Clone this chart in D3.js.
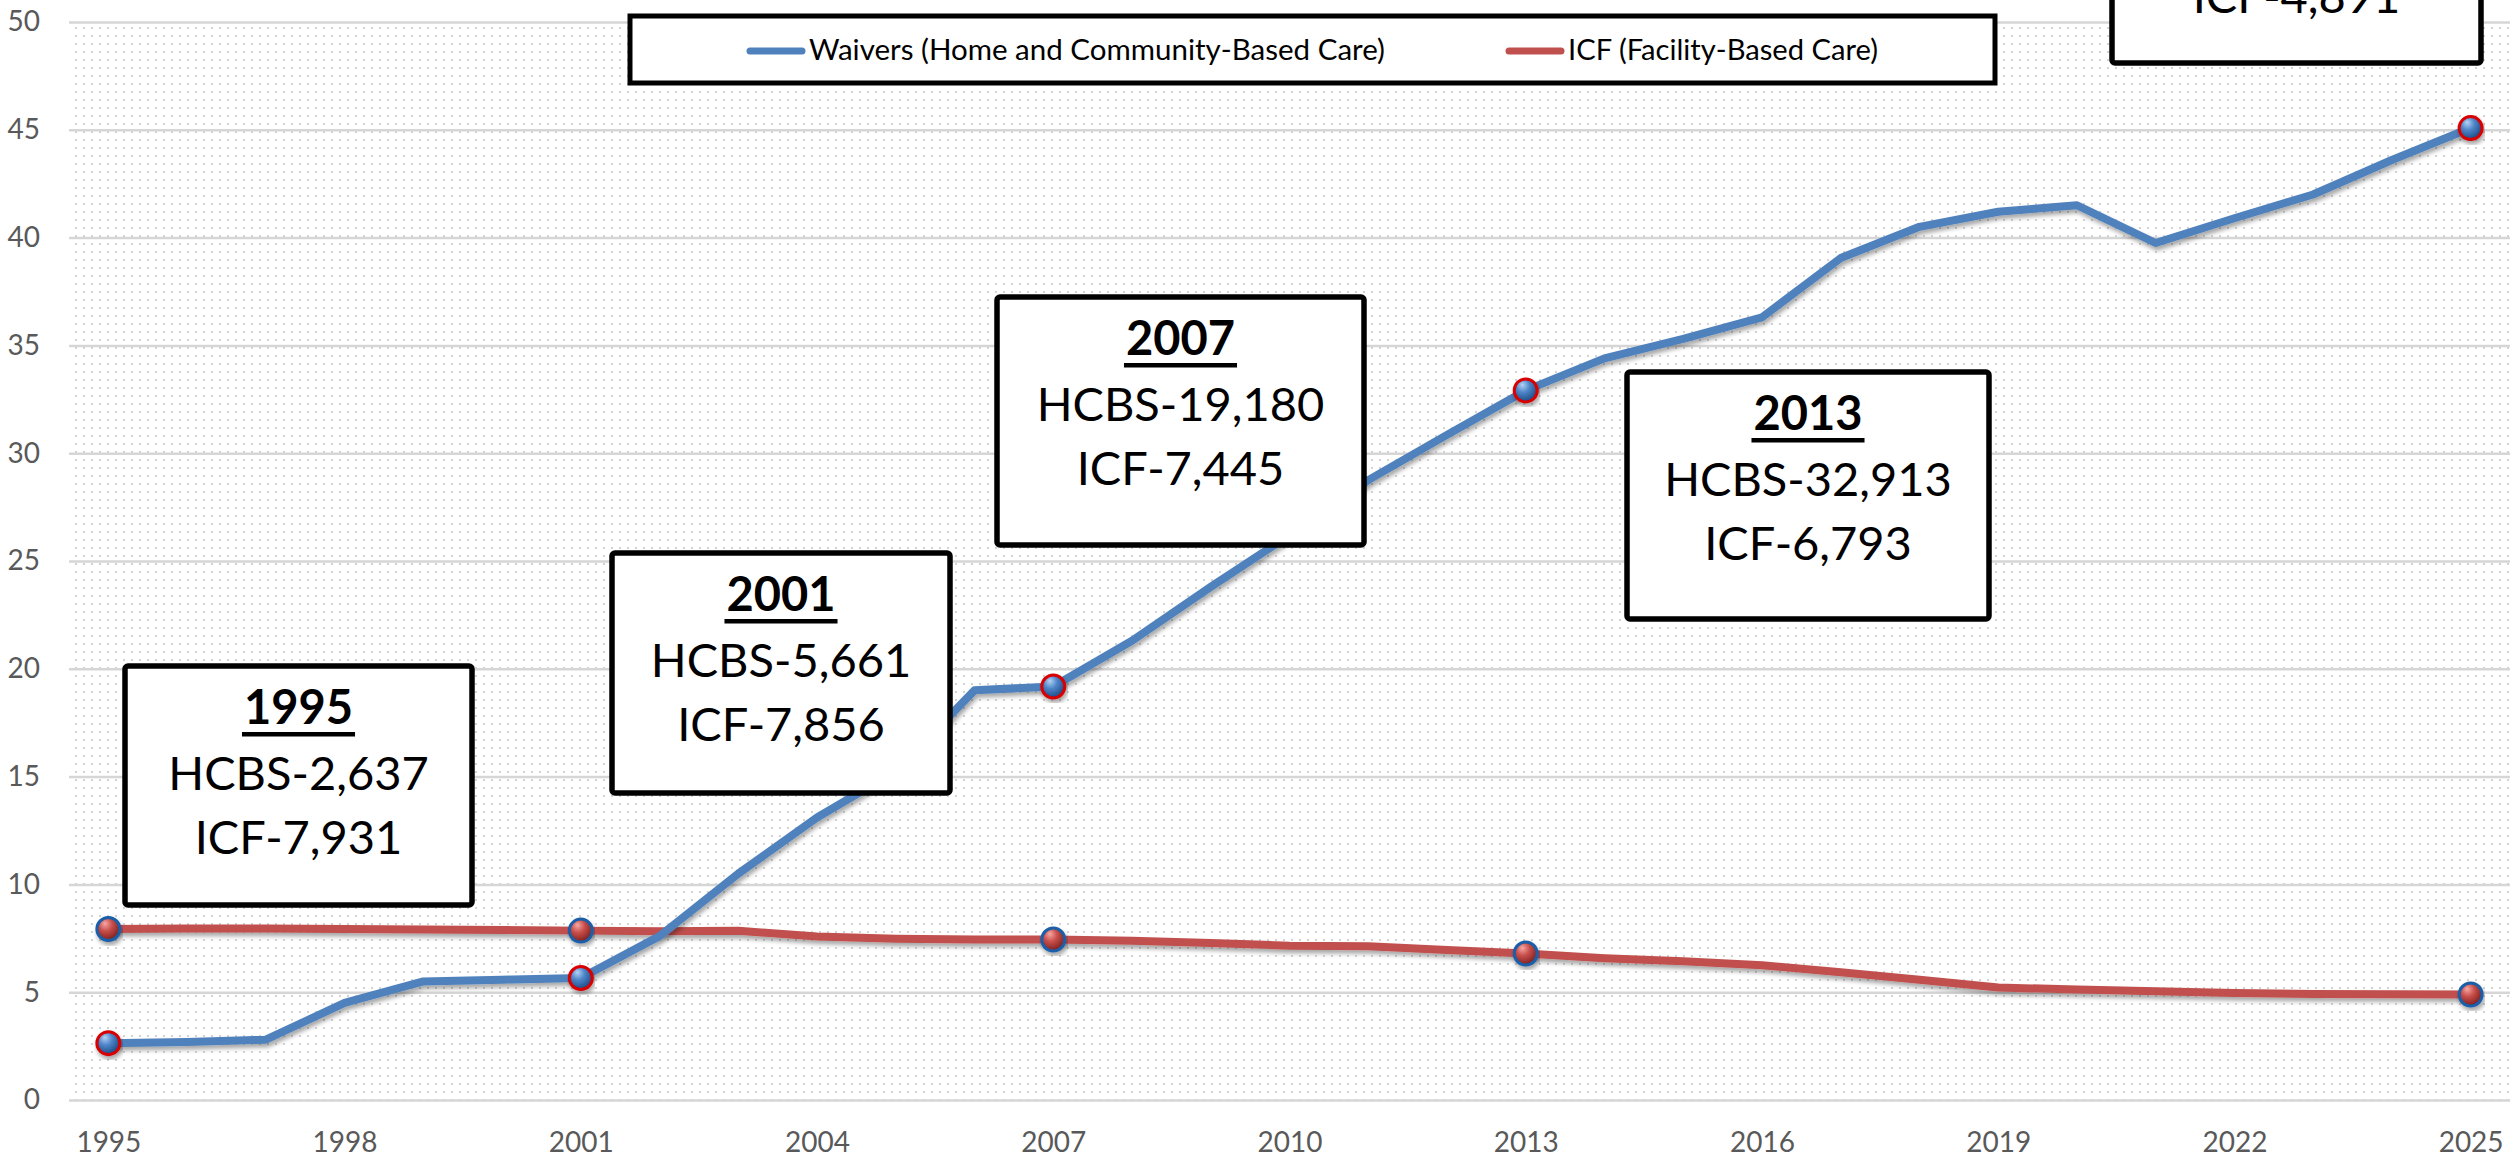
<!DOCTYPE html>
<html>
<head>
<meta charset="utf-8">
<script src="https://cdn.jsdelivr.net/npm/d3@7"></script>
<style>
  body { margin: 0; background: #fff; }
  svg { display: block; font-family: Lato, "Open Sans", sans-serif; }
</style>
</head>
<body>
<div id="chart"></div>
<script>
// Years on the category axis and the two series (thousands of people)
const years = d3.range(1995, 2026);
const hcbs = [2.637, 2.69, 2.80, 4.50, 5.50, 5.58, 5.661, 7.60, 10.50, 13.10, 15.25, 19.00, 19.18,
  21.30, 23.80, 26.20, 28.75, 30.85, 32.913, 34.40, 35.30, 36.30, 39.05, 40.50, 41.20, 41.50,
  39.75, 40.90, 42.00, 43.60, 45.08];
const icf = [7.931, 7.95, 7.95, 7.93, 7.91, 7.89, 7.856, 7.83, 7.85, 7.58, 7.48, 7.45, 7.445,
  7.39, 7.28, 7.16, 7.13, 6.96, 6.793, 6.58, 6.44, 6.25, 5.93, 5.58, 5.22, 5.12,
  5.04, 4.96, 4.92, 4.90, 4.891];
const yTicks = [0, 5, 10, 15, 20, 25, 30, 35, 40, 45, 50];
const xTickYears = [1995, 1998, 2001, 2004, 2007, 2010, 2013, 2016, 2019, 2022, 2025];
const markerYears = [1995, 2001, 2007, 2013, 2025];
const seriesNames = ["Waivers (Home and Community-Based Care)", "ICF (Facility-Based Care)"];

// callout boxes: placement only
const calloutLayout = {
  1995: { x: 125, y: 666, w: 347, h: 239 },
  2001: { x: 612, y: 553, w: 338, h: 240 },
  2007: { x: 997, y: 297, w: 367, h: 248 },
  2013: { x: 1627, y: 372, w: 362, h: 247 },
  2025: { x: 2112, y: -175, w: 369, h: 238 }
};

const W = 2519, H = 1159;
const plot = { left: 69, right: 2510, top: 22, bottom: 1100 };

const svg = d3.select("#chart").append("svg")
  .attr("width", W)
  .attr("height", H);

const defs = svg.append("defs");

const pat = defs.append("pattern")
  .attr("id", "dots")
  .attr("patternUnits", "userSpaceOnUse")
  .attr("width", 8).attr("height", 8);
pat.append("rect").attr("width", 8).attr("height", 8).attr("fill", "#fff");
pat.append("rect").attr("x", 3).attr("y", 3).attr("width", 2).attr("height", 2).attr("fill", "#d3d3d3");

const shadow = defs.append("filter")
  .attr("id", "shadow")
  .attr("x", "-10%").attr("y", "-10%")
  .attr("width", "120%").attr("height", "130%");
shadow.append("feDropShadow")
  .attr("dx", 1.5).attr("dy", 3.5)
  .attr("stdDeviation", 2.2)
  .attr("flood-color", "#000")
  .attr("flood-opacity", 0.35);

function sphere(id, stops) {
  const g = defs.append("radialGradient")
    .attr("id", id)
    .attr("cx", "40%").attr("cy", "35%").attr("r", "65%")
    .attr("fx", "35%").attr("fy", "25%");
  stops.forEach(s => g.append("stop").attr("offset", s[0]).attr("stop-color", s[1]));
}
sphere("blueBall", [["0%", "#b5d3f5"], ["45%", "#4f86c9"], ["100%", "#1d4a85"]]);
sphere("redBall", [["0%", "#f6a9a6"], ["45%", "#c9504c"], ["100%", "#7e1f1d"]]);

const x = d3.scalePoint()
  .domain(years)
  .range([plot.left, plot.right])
  .padding(0.5);

const y = d3.scaleLinear()
  .domain([0, 50])
  .range([plot.bottom, plot.top]);

// plot area with dotted fill
svg.append("rect")
  .attr("x", plot.left).attr("y", plot.top)
  .attr("width", plot.right - plot.left)
  .attr("height", plot.bottom - plot.top)
  .attr("fill", "url(#dots)");

// y axis + gridlines
const yAxis = svg.append("g")
  .attr("transform", `translate(${plot.left},0)`)
  .call(d3.axisLeft(y).tickValues(yTicks).tickSize(-(plot.right - plot.left)).tickPadding(29));
yAxis.select(".domain").remove();
yAxis.selectAll(".tick line")
  .attr("stroke", "#d6d6d6")
  .attr("stroke-width", 2.5);
yAxis.selectAll(".tick text")
  .attr("fill", "#595959")
  .attr("font-size", 28)
  .attr("font-family", "Lato, sans-serif");

// x axis labels
const xAxis = svg.append("g")
  .attr("transform", `translate(0,${plot.bottom})`)
  .call(d3.axisBottom(x).tickValues(xTickYears).tickSize(0).tickPadding(0));
xAxis.select(".domain").remove();
xAxis.selectAll(".tick text")
  .attr("y", 52)
  .attr("dy", 0)
  .attr("fill", "#595959")
  .attr("font-size", 28)
  .attr("font-family", "Lato, sans-serif");

const line = d3.line()
  .x(d => x(d.year))
  .y(d => y(d.value));

const series = [
  { name: seriesNames[0], color: "#4f81bd", ball: "blueBall", ring: "#d80000",
    values: years.map((yr, i) => ({ year: yr, value: hcbs[i] })) },
  { name: seriesNames[1], color: "#c0504d", ball: "redBall", ring: "#1a5ea8",
    values: years.map((yr, i) => ({ year: yr, value: icf[i] })) }
];

// draw ICF first so waivers sits on top where they cross
[series[1], series[0]].forEach(s => {
  svg.append("path")
    .datum(s.values)
    .attr("fill", "none")
    .attr("stroke", s.color)
    .attr("stroke-width", 8)
    .attr("stroke-linejoin", "round")
    .attr("filter", "url(#shadow)")
    .attr("d", line);
});

series.forEach(s => {
  svg.append("g").selectAll("circle")
    .data(s.values.filter(d => markerYears.includes(d.year)))
    .enter().append("circle")
    .attr("cx", d => x(d.year))
    .attr("cy", d => y(d.value))
    .attr("r", 11.5)
    .attr("fill", `url(#${s.ball})`)
    .attr("stroke", s.ring)
    .attr("stroke-width", 3)
    .attr("filter", "url(#shadow)");
});

// callout boxes
const fmt = v => d3.format(",")(Math.round(v * 1000));
markerYears.forEach(yr => {
  const b = calloutLayout[yr];
  const i = years.indexOf(yr);
  const g = svg.append("g");
  g.append("rect")
    .attr("x", b.x).attr("y", b.y)
    .attr("width", b.w).attr("height", b.h)
    .attr("rx", 3)
    .attr("fill", "#fff")
    .attr("stroke", "#000")
    .attr("stroke-width", 5.5);
  const cx = b.x + b.w / 2;
  const yearText = g.append("text")
    .attr("x", cx).attr("y", b.y + 58)
    .attr("text-anchor", "middle")
    .attr("font-size", 47)
    .attr("font-weight", "bold")
    .text(yr);
  const tw = yearText.node().getComputedTextLength();
  g.append("rect")
    .attr("x", cx - tw / 2 - 2).attr("y", b.y + 66)
    .attr("width", tw + 4).attr("height", 4.5)
    .attr("fill", "#000");
  g.append("text")
    .attr("x", cx).attr("y", b.y + 124)
    .attr("text-anchor", "middle")
    .attr("font-size", 47)
    .text("HCBS-" + fmt(hcbs[i]));
  g.append("text")
    .attr("x", cx).attr("y", b.y + 188)
    .attr("text-anchor", "middle")
    .attr("font-size", 47)
    .text("ICF-" + fmt(icf[i]));
});

// legend
const legend = svg.append("g");
legend.append("rect")
  .attr("x", 630).attr("y", 16)
  .attr("width", 1365).attr("height", 67)
  .attr("fill", "#fff")
  .attr("stroke", "#000")
  .attr("stroke-width", 5);

const legendItems = [
  { s: series[0], x: 747, len: 576 },
  { s: series[1], x: 1506, len: 310 }
];
legendItems.forEach(it => {
  legend.append("line")
    .attr("x1", it.x + 3).attr("x2", it.x + 55)
    .attr("y1", 51).attr("y2", 51)
    .attr("stroke", it.s.color)
    .attr("stroke-width", 7)
    .attr("stroke-linecap", "round");
  legend.append("text")
    .attr("x", it.x + 62).attr("y", 60)
    .attr("font-size", 28)
    .attr("fill", "#000")
    .attr("textLength", it.len)
    .attr("lengthAdjust", "spacingAndGlyphs")
    .text(it.s.name);
});
</script>
</body>
</html>
